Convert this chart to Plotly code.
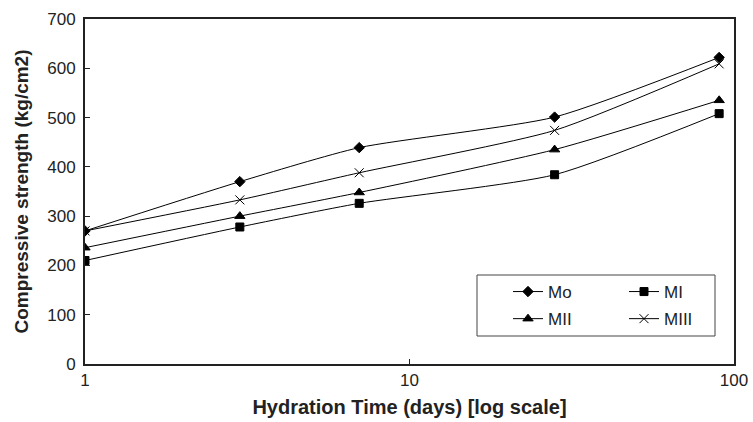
import plotly.graph_objects as go

days = [1, 3, 7, 28, 90]
mo = [270, 370, 439, 501, 622]
mi = [210, 278, 326, 384, 508]
mii = [236, 300, 348, 435, 535]
miii = [270, 333, 388, 474, 609]

series_names = ["Mo", "MI", "MII", "MIII"]
series_vals = [mo, mi, mii, miii]
symbols = ["diamond", "square", "triangle-up", "x-thin-open"]
sizes = [8, 8, 9, 9]
legends = ["legend", "legend2", "legend", "legend2"]

FONT = "Liberation Sans, Arial, sans-serif"

fig = go.Figure()
for name, vals, sym, sz, lg in zip(series_names, series_vals, symbols, sizes, legends):
    fig.add_trace(go.Scatter(
        x=days, y=vals, name=name, mode="lines+markers",
        line=dict(color="black", width=1, shape="spline", smoothing=0.6),
        marker=dict(symbol=sym, size=sz, color="black",
                    line=dict(color="black", width=1)),
        legend=lg, legendgroup=name,
    ))

W, H = 753, 422
L, R, T, B = 85, 19, 19, 58
pw, ph = W - L - R, H - T - B

def px(x):  # page pixel -> paper
    return (x - L) / pw

def py(y):
    return (H - B - y) / ph

fig.update_layout(
    width=W, height=H,
    margin=dict(l=L, r=R, t=T, b=B),
    paper_bgcolor="white", plot_bgcolor="white",
    font=dict(family=FONT, size=17, color="#222"),
    showlegend=True,
    legend=dict(x=px(508), y=py(274), xanchor="left", yanchor="top",
                bgcolor="rgba(0,0,0,0)", font=dict(size=17, color="#222"),
                tracegroupgap=2, itemwidth=30),
    legend2=dict(x=px(624), y=py(274), xanchor="left", yanchor="top",
                 bgcolor="rgba(0,0,0,0)", font=dict(size=17, color="#222"),
                 tracegroupgap=2, itemwidth=30),
    xaxis=dict(
        type="log", range=[0, 2], tickvals=[1, 10, 100], ticktext=["1", "10", "100"],
        showline=True, linecolor="#222", linewidth=2, mirror=True, automargin=False,
        ticks="inside", ticklen=5, tickcolor="#222", showgrid=False, zeroline=False,
        tickfont=dict(size=17, color="#222"),
        title=dict(text="<b>Hydration Time (days) [log scale]</b>", font=dict(size=20, color="#222"), standoff=11),
    ),
    yaxis=dict(
        range=[0, 700], dtick=100,
        showline=True, linecolor="#222", linewidth=2, mirror=True, automargin=False,
        ticks="inside", ticklen=5, tickcolor="#222", showgrid=False, zeroline=False,
        tickfont=dict(size=17, color="#222"), ticklabelstandoff=4,
        title=dict(text="<b>Compressive strength (kg/cm2)</b>", font=dict(size=19, color="#222"), standoff=14),
    ),
    shapes=[dict(type="rect", xref="paper", yref="paper",
                 x0=px(477), x1=px(715), y0=py(336), y1=py(275),
                 line=dict(color="#444", width=1), fillcolor="rgba(0,0,0,0)")],
)

fig.write_html("out.html", config={"displayModeBar": False},
               post_script="document.body.style.margin='0';document.body.style.overflow='hidden';")
